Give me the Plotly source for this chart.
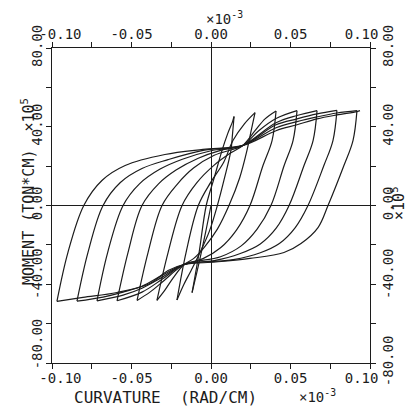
import plotly.graph_objects as go

# ---- data: curvature (x1e-3 rad/cm) and moment (x1e5 ton*cm) ----
init_x = [0.0, -0.0035, -0.0075, -0.0119]
init_m = [0.0, -14.0, -29.0, -44.2]

a1_x = [-0.0119, -0.0075, -0.003, 0.002, 0.0069, 0.0105, 0.0135, 0.0145]
a1_m = [-44.2, -24.0, 0.0, 14.0, 27.9, 36.5, 42.5, 45.2]
d1_x = [0.0145, 0.0135, 0.0125, 0.0085, 0.004, -0.001, -0.007, -0.0125, -0.017, -0.0214]
d1_m = [45.2, 36.0, 27.9, 14.0, 0.0, -13.0, -24.0, -33.0, -40.0, -48.0]

a2_x = [-0.0214, -0.0157, -0.008, 0.0, 0.008, 0.0138, 0.021, 0.0277]
a2_m = [-48.0, -23.9, 0.0, 12.0, 22.0, 33.0, 41.5, 47.2]
d2_x = [0.0277, 0.025, 0.0226, 0.018, 0.0113, 0.004, -0.004, -0.011, -0.017, -0.024, -0.029, -0.034]
d2_m = [47.2, 37.0, 27.9, 14.0, 0.0, -12.0, -21.0, -27.0, -30.0, -37.0, -43.0, -48.2]

a3_x = [-0.034, -0.027, -0.0182, -0.009, 0.002, 0.012, 0.020, 0.0277, 0.034, 0.0409]
a3_m = [-48.2, -23.9, 0.0, 11.5, 20.5, 26.5, 30.5, 38.0, 44.0, 48.0]
d3_x = [0.0409, 0.0384, 0.0327, 0.0245, 0.016, 0.006, -0.005, -0.017, -0.0308, -0.0384, -0.0465]
d3_m = [48.0, 33.0, 20.3, 0.0, -12.5, -21.5, -27.0, -30.0, -39.0, -44.0, -48.2]

a4_x = [-0.0465, -0.0396, -0.0308, -0.021, -0.011, 0.002, 0.020, 0.030, 0.0409, 0.0541]
a4_m = [-48.2, -23.9, 0.0, 11.0, 19.0, 25.5, 30.5, 38.0, 44.2, 48.2]
d4_x = [0.0541, 0.0516, 0.046, 0.0377, 0.029, 0.019, 0.006, -0.017, -0.0308, -0.0434, -0.0591]
d4_m = [48.2, 33.0, 20.3, 0.0, -12.0, -20.5, -26.0, -30.0, -37.5, -44.0, -48.4]

a5_x = [-0.0591, -0.0522, -0.0434, -0.033, -0.022, -0.008, 0.006, 0.020, 0.0409, 0.0541, 0.0667]
a5_m = [-48.4, -23.9, 0.0, 11.0, 18.0, 24.0, 28.0, 30.5, 42.0, 45.7, 48.2]
d5_x = [0.0667, 0.0642, 0.0585, 0.0491, 0.041, 0.031, 0.018, 0.002, -0.017, -0.0308, -0.0434, -0.0553, -0.0717]
d5_m = [48.2, 33.0, 20.3, 0.0, -11.5, -19.5, -24.5, -28.0, -30.0, -36.5, -42.0, -45.5, -48.4]

a6_x = [-0.0717, -0.065, -0.0553, -0.045, -0.032, -0.018, 0.0, 0.020, 0.0409, 0.0541, 0.0667, 0.0792]
a6_m = [-48.4, -23.9, 0.0, 11.0, 18.5, 23.5, 27.8, 30.5, 41.0, 44.0, 46.5, 48.3]
d6_x = [0.0792, 0.0767, 0.071, 0.061, 0.053, 0.043, 0.031, 0.014, -0.017, -0.0308, -0.0434, -0.0553, -0.0679, -0.0843]
d6_m = [48.3, 33.0, 20.3, 0.0, -11.2, -19.3, -24.0, -27.5, -30.0, -35.5, -41.0, -44.0, -46.5, -48.6]

a7_x = [-0.0843, -0.0774, -0.0679, -0.057, -0.0434, -0.027, -0.005, 0.020, 0.0409, 0.0541, 0.0667, 0.0792, 0.0918]
a7_m = [-48.6, -23.9, 0.0, 11.7, 18.8, 23.3, 28.0, 30.5, 39.5, 42.6, 45.0, 47.0, 48.2]
d7_x = [0.0918, 0.0893, 0.0836, 0.0736, 0.0673, 0.0566, 0.0459, 0.0245, 0.003, -0.017, -0.027, -0.0384, -0.0591, -0.0805, -0.0969]
d7_m = [48.2, 33.0, 20.3, 0.0, -11.2, -19.3, -23.9, -26.9, -28.7, -30.0, -33.0, -39.6, -44.2, -46.7, -48.7]

a8_x = [-0.0969, -0.090, -0.080, -0.0686, -0.054, -0.029, -0.005, 0.020, 0.0409, 0.0541, 0.0667, 0.0792, 0.0918, 0.0937]
a8_m = [-48.7, -23.9, 0.0, 12.7, 20.3, 25.9, 28.5, 30.5, 38.0, 41.0, 44.0, 46.0, 47.7, 48.2]

NB = "\u00a0"
x_tickvals = [-0.10, -0.05, 0.0, 0.05, 0.10]
x_ticktext = [NB * 2 + "-0.10", "-0.05", "0.00", "0.05", "0.10" + NB * 2]
x_minor = [-0.075, -0.025, 0.025, 0.075]
y_tickvals = [-80, -40, 0, 40, 80]
y_ticktext_left = [NB * 4 + "-80.00", NB * 2 + "-40.00", "0.00", "40.00", "80.00"]
y_ticktext_right = ["-80.00", NB * 2 + "-40.00", "0.00", "40.00", "80.00"]
y_minor = [-60, -20, 20, 60]

branches = [
    (init_x, init_m), (a1_x, a1_m), (d1_x, d1_m), (a2_x, a2_m), (d2_x, d2_m),
    (a3_x, a3_m), (d3_x, d3_m), (a4_x, a4_m), (d4_x, d4_m), (a5_x, a5_m),
    (d5_x, d5_m), (a6_x, a6_m), (d6_x, d6_m), (a7_x, a7_m), (d7_x, d7_m),
    (a8_x, a8_m),
]

FONT = "DejaVu Sans Mono"
INK = "#1c1c1c"

fig = go.Figure()
for bx, bm in branches:
    fig.add_trace(go.Scatter(
        x=bx, y=bm, mode="lines",
        line=dict(color=INK, width=1.2, shape="spline", smoothing=1.0),
        showlegend=False, hoverinfo="skip"))

# companion axes (top / right) carry their own labels
fig.add_trace(go.Scatter(x=[None], y=[None], xaxis="x2", yaxis="y2",
                         showlegend=False, hoverinfo="skip"))

tick_common = dict(ticks="outside", ticklen=5, tickwidth=1, tickcolor=INK,
                   showline=True, linecolor=INK, linewidth=1.2, automargin=False,
                   ticklabeloverflow="allow",
                   showgrid=False, tickfont=dict(family=FONT, size=14, color=INK))

def minor_ticks(vals):
    return dict(tickmode="array", tickvals=vals, ticks="outside", ticklen=5,
                tickcolor=INK, showgrid=False)

# page body keeps an 8px default margin, so the figure is 8px smaller
fig.update_layout(
    width=410, height=401,
    margin=dict(l=44, r=48, t=40, b=46, autoexpand=False),
    paper_bgcolor="white", plot_bgcolor="white",
    xaxis=dict(range=[-0.1, 0.1], tickmode="array", tickvals=x_tickvals, ticktext=x_ticktext,
               zeroline=True, zerolinecolor=INK, zerolinewidth=1, ticklabelstandoff=-3,
               minor=minor_ticks(x_minor), **tick_common),
    yaxis=dict(range=[-80, 80], tickmode="array", tickvals=y_tickvals, ticktext=y_ticktext_left,
               tickangle=-90, zeroline=True, zerolinecolor=INK, zerolinewidth=1,
               ticklabelstandoff=-2, minor=minor_ticks(y_minor), **tick_common),
    xaxis2=dict(range=[-0.1, 0.1], overlaying="x", side="top", anchor="y",
                tickmode="array", tickvals=x_tickvals, ticktext=x_ticktext, zeroline=False,
                ticklabelstandoff=-3, minor=minor_ticks(x_minor), **tick_common),
    yaxis2=dict(range=[-80, 80], overlaying="y", side="right", anchor="x",
                tickmode="array", tickvals=y_tickvals, ticktext=y_ticktext_right, tickangle=-90,
                zeroline=False, minor=minor_ticks(y_minor), **tick_common),
)

ann_font = dict(family=FONT, color=INK)
ann_common = dict(xref="paper", yref="paper", showarrow=False,
                  xanchor="center", yanchor="middle")
fig.add_annotation(x=0.541, y=1.095, text="×10<sup>-3</sup>",
                   font=dict(size=14, **ann_font), **ann_common)
fig.add_annotation(x=0.358, y=-0.108, text="CURVATURE  (RAD/CM)",
                   font=dict(size=16, **ann_font), **ann_common)
fig.add_annotation(x=0.836, y=-0.105, text="×10<sup>-3</sup>",
                   font=dict(size=14, **ann_font), **ann_common)
fig.add_annotation(x=-0.0755, y=0.546, textangle=-90,
                   text="MOMENT (TON*CM)  ×10<sup>5</sup>",
                   font=dict(size=15, **ann_font), **ann_common)
fig.add_annotation(x=1.088, y=0.508, textangle=-90, text="×10<sup>5</sup>",
                   font=dict(size=15, **ann_font), **ann_common)

fig.write_html("out.html")
